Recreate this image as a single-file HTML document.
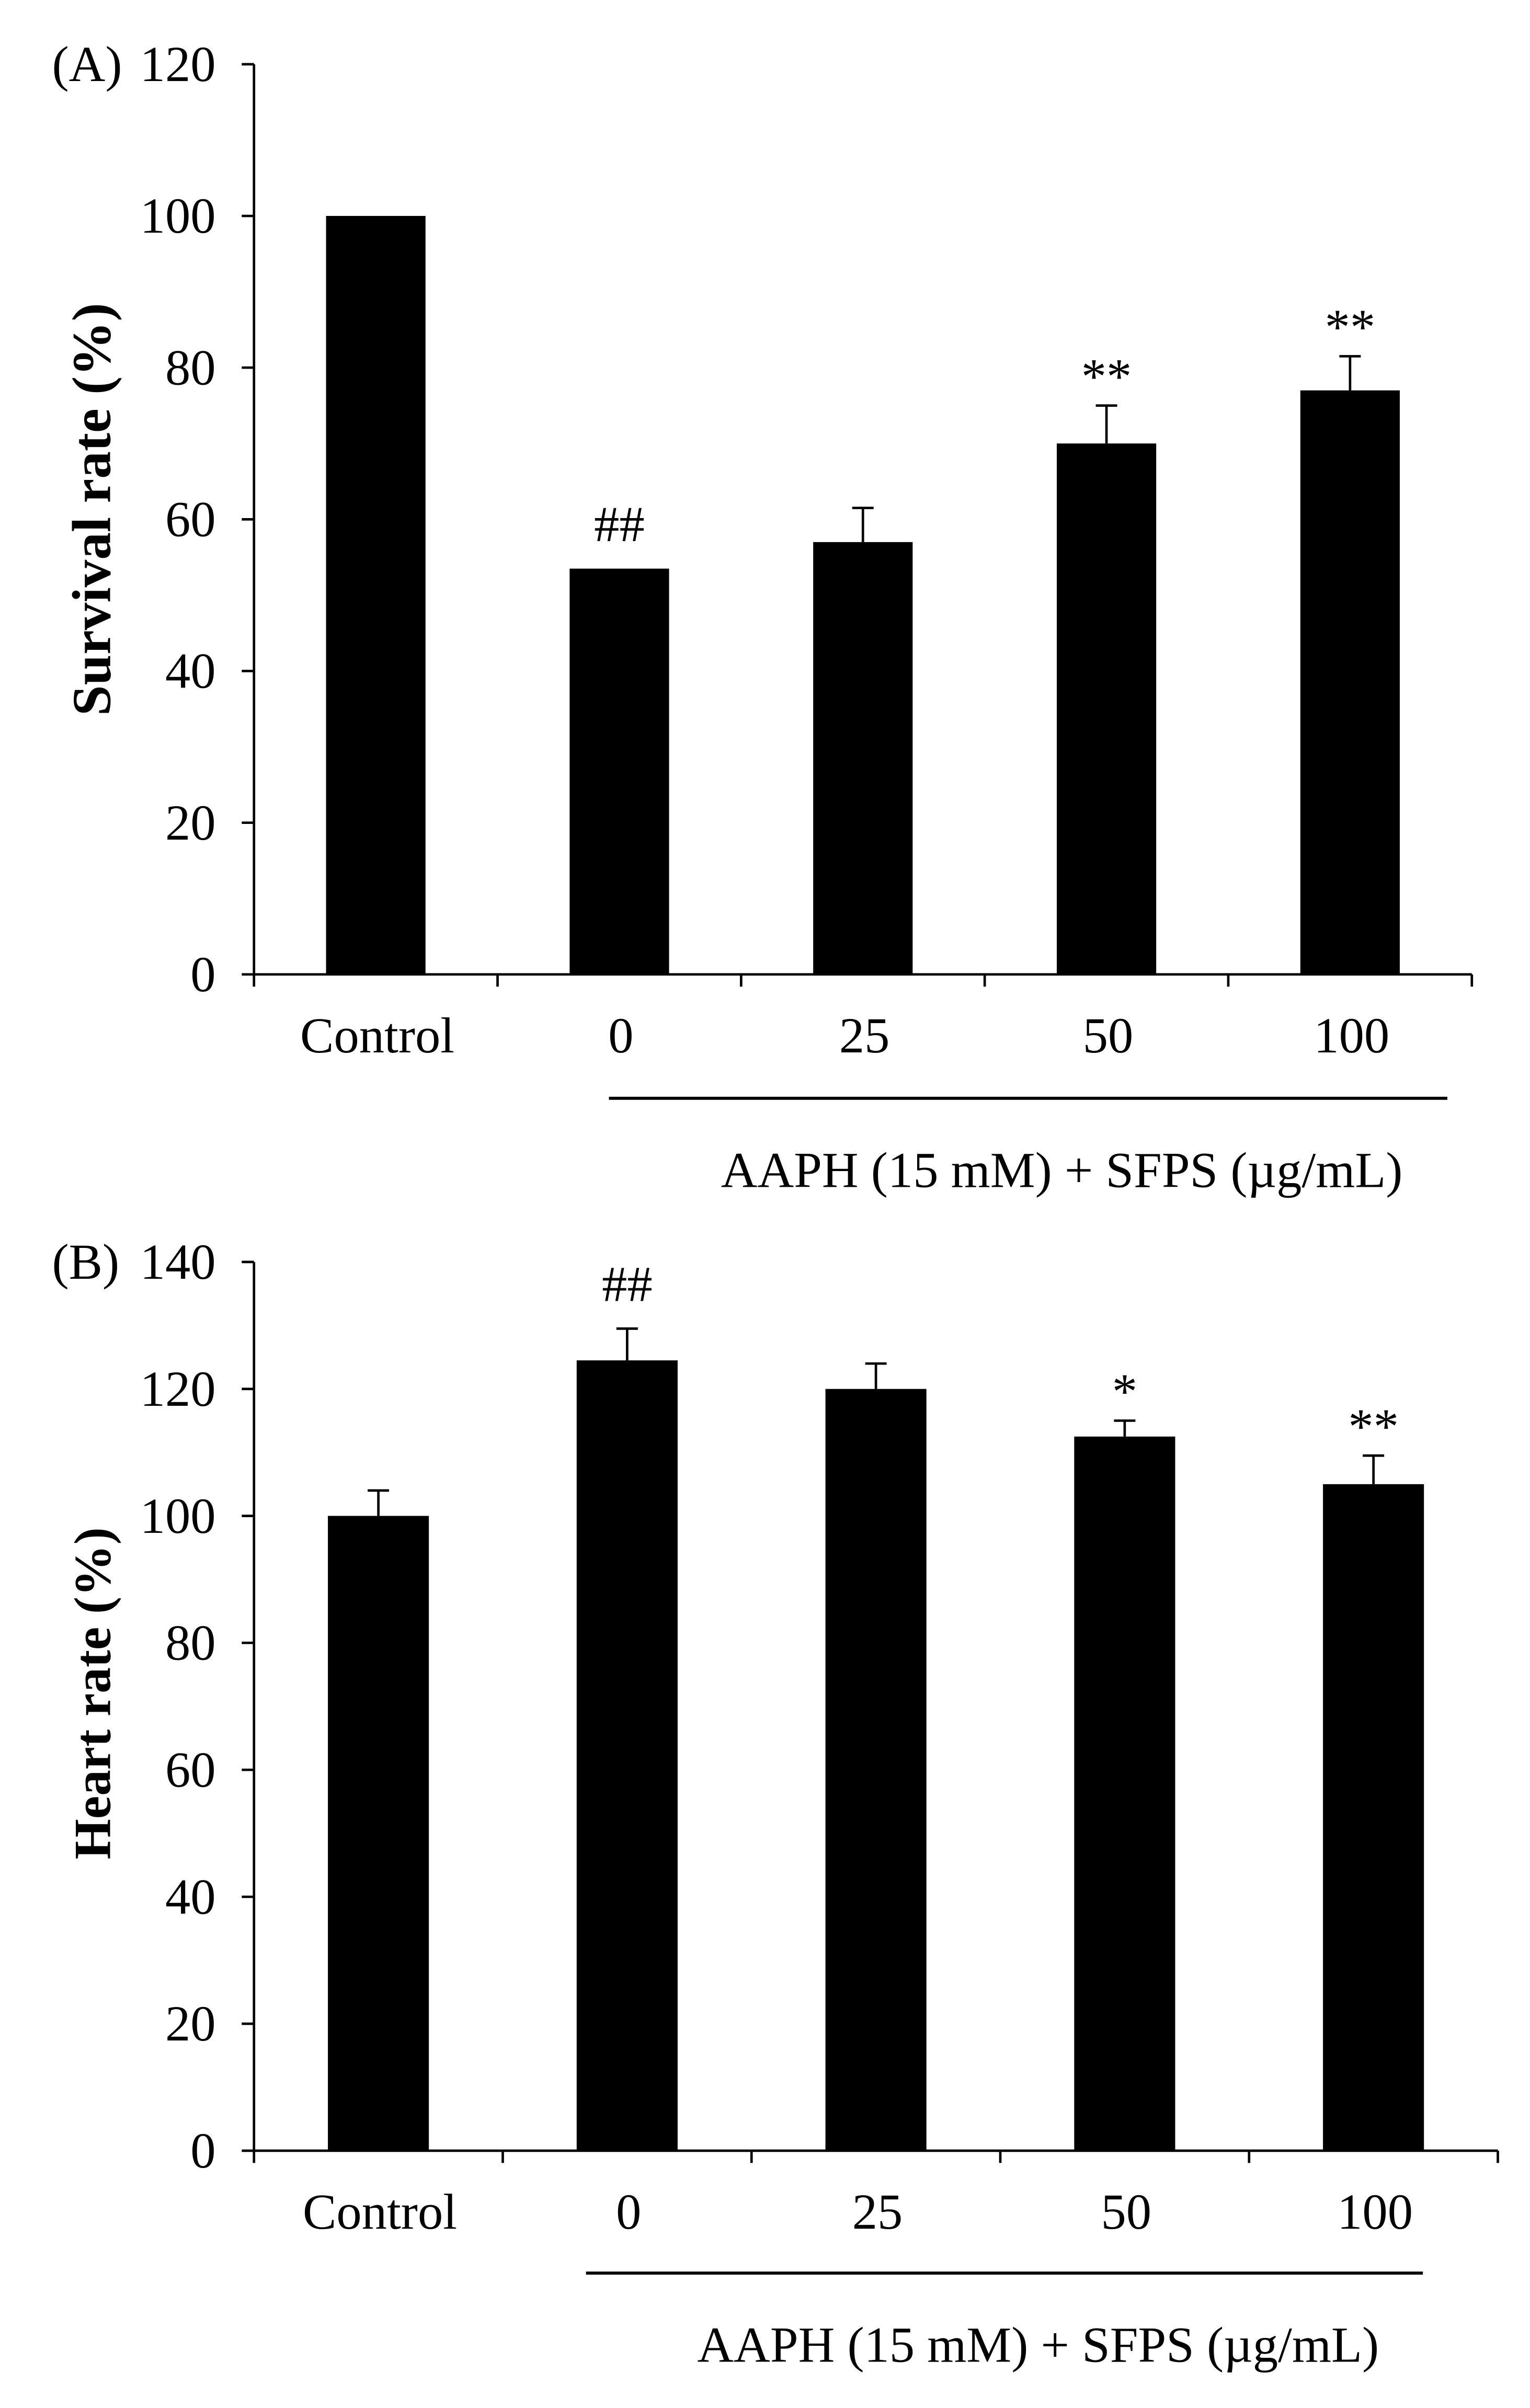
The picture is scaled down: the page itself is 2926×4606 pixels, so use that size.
<!DOCTYPE html>
<html><head><meta charset="utf-8"><style>html,body{margin:0;padding:0;background:#fff}svg{display:block}</style></head>
<body>
<svg id="fig" xmlns="http://www.w3.org/2000/svg" width="2926" height="4606" viewBox="0 0 1000 1574.2" font-family="'Liberation Serif', serif"></svg>
<script>
const catsA = ["Control","0","25","50","100"];
const valsA = [100, 53.5, 57, 70, 77];
const errA = [0, 0, 4.5, 5, 4.5];
const sigA = ["", "##", "", "**", "**"];
const ticksA = [0,20,40,60,80,100,120];

const catsB = ["Control","0","25","50","100"];
const valsB = [100, 124.5, 120, 112.5, 105];
const errB = [4, 5, 4, 2.5, 4.5];
const sigB = ["", "##", "", "*", "**"];
const ticksB = [0,20,40,60,80,100,120,140];

const NS = "http://www.w3.org/2000/svg";
const svg = document.getElementById('fig');
function mk(tag, attrs, parent, text){
  const e = document.createElementNS(NS, tag);
  for (const k in attrs) e.setAttribute(k, attrs[k]);
  if (text !== undefined) e.textContent = text;
  (parent||svg).appendChild(e);
  return e;
}

function panel(cfg){
  const g = mk('g', {});
  
  
  const y = v => cfg.y0 - (v - 0) / cfg.max * (cfg.y0 - cfg.yTop);
  const step = cfg.step;
  const cx = i => cfg.x0 + step * (i + 0.5);
  const ax = mk('line', {x1:cfg.x0, y1:cfg.yTop, x2:cfg.x0, y2:cfg.y0, stroke:'#000', 'stroke-width':1.6}, g);
  
  
  cfg.ticks.forEach(t => {
    mk('line', {x1:cfg.x0-8, y1:y(t), x2:cfg.x0, y2:y(t), stroke:'#000', 'stroke-width':1.6}, g);
    const tl = mk('text', {x:cfg.x0-25, y:y(t)+11, 'text-anchor':'end', 'font-size':33}, g, String(t));
    
    
  });
  const xEnd = cfg.x0 + step * cfg.cats.length;
  const xa = mk('line', {x1:cfg.x0, y1:cfg.y0, x2:xEnd, y2:cfg.y0, stroke:'#000', 'stroke-width':1.6}, g);
  
  
  for (let i = 0; i <= cfg.cats.length; i++) {
    mk('line', {x1:cfg.x0+step*i, y1:cfg.y0, x2:cfg.x0+step*i, y2:cfg.y0+8, stroke:'#000', 'stroke-width':1.6}, g);
  }
  cfg.cats.forEach((c, i) => {
    const b = mk('rect', {x:cx(i)-cfg.bw/2, y:y(cfg.vals[i]), width:cfg.bw, height:cfg.y0-y(cfg.vals[i]), fill:'#000'}, g);
    
    
    let top = y(cfg.vals[i]);
    if (cfg.err[i] > 0) {
      const ey = y(cfg.vals[i] + cfg.err[i]);
      mk('line', {x1:cx(i), y1:top, x2:cx(i), y2:ey, stroke:'#000', 'stroke-width':1.6}, g);
      const cap = mk('line', {x1:cx(i)-7, y1:ey, x2:cx(i)+7, y2:ey, stroke:'#000', 'stroke-width':1.6}, g);
      
      
      top = ey;
    }
    if (cfg.sig[i]) {
      const s = mk('text', {x:cx(i), y:top - (cfg.sig[i][0]==='#' ? 18 : 8), 'text-anchor':'middle', 'font-size':33}, g, cfg.sig[i]);
      
      
    }
    const cl = mk('text', {x:cx(i)+1, y:cfg.y0+51, 'text-anchor':'middle', 'font-size':33}, g, c);
    
    
  });
  const gl = mk('line', {x1:cfg.lx1, y1:cfg.ly, x2:cfg.lx2, y2:cfg.ly, stroke:'#000', 'stroke-width':2}, g);
  
  
  const gt = mk('text', {x:(cfg.lx1+cfg.lx2)/2+22, y:cfg.ly+58, 'text-anchor':'middle', 'font-size':33}, g, 'AAPH (15 mM) + SFPS (\u00b5g/mL)');
  
  
  const yt = mk('text', {x:0, y:0, transform:`translate(${cfg.ytx},${cfg.yty}) rotate(-90)`, 'text-anchor':'middle', 'font-size':cfg.ytfs, 'font-weight':'bold'}, g, cfg.ytitle);
  
  
  const pl = mk('text', {x:34, y:cfg.yTop+11, 'font-size':33}, g, cfg.label);
  
  
}

panel({name:'panel-a-survival-chart', cats:catsA, vals:valsA, err:errA, sig:sigA, ticks:ticksA, max:120,
  x0:166, y0:637, yTop:42, step:159.2, bw:65, lx1:398, lx2:946, ly:718,
  ytitle:'Survival rate (%)', ytfs:36, ytx:72, yty:333, label:'(A)'});
panel({name:'panel-b-heart-rate-chart', cats:catsB, vals:valsB, err:errB, sig:sigB, ticks:ticksB, max:140,
  x0:166, y0:1406, yTop:825, step:162.6, bw:66, lx1:383, lx2:930, ly:1486,
  ytitle:'Heart  rate (%)', ytfs:34, ytx:72, yty:1107, label:'(B)'});
</script>
</body></html>
